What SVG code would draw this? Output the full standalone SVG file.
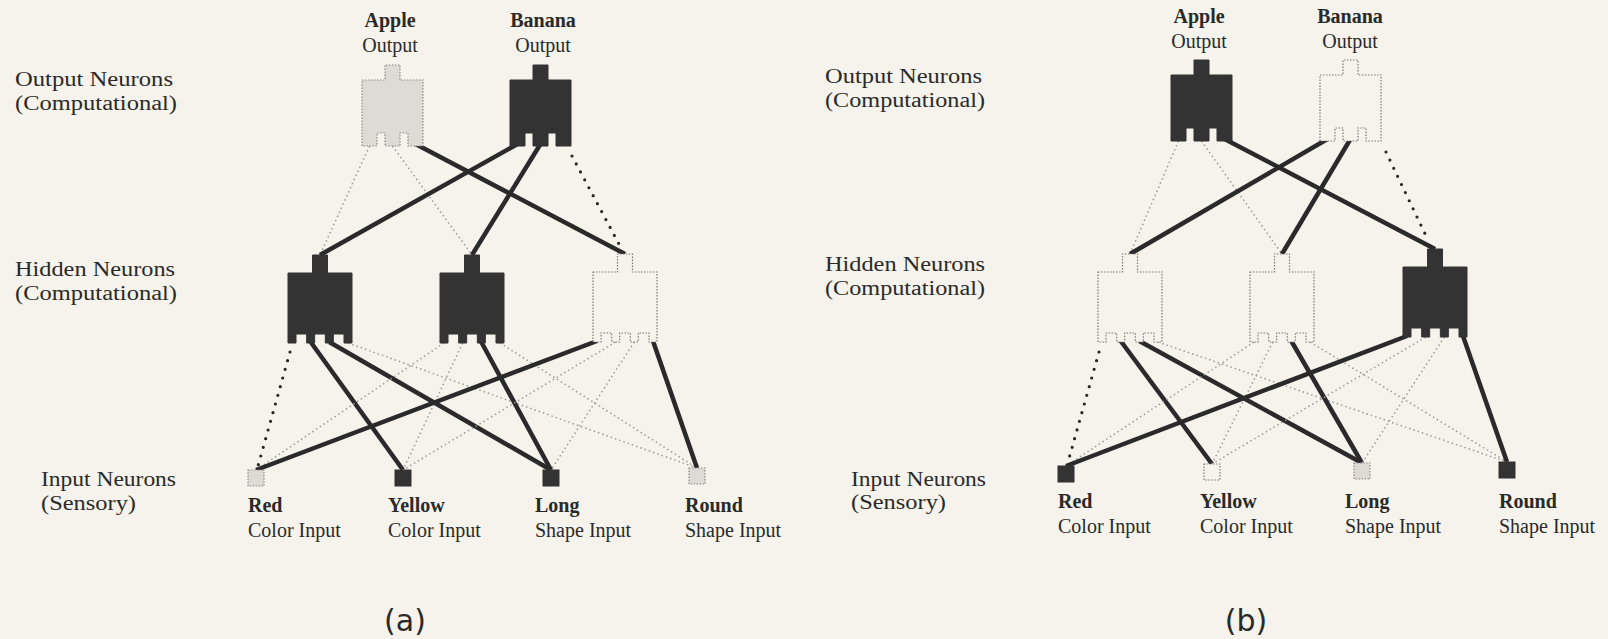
<svg xmlns="http://www.w3.org/2000/svg" xmlns:xlink="http://www.w3.org/1999/xlink" width="1608" height="639" viewBox="0 0 1608 639">
<style>
.bg{fill:#f5f3eb}
.t{font-family:"Liberation Serif","Times New Roman",serif;font-size:20px;fill:#2a2a2a}
.b{font-weight:bold}
.cap{font-family:"DejaVu Sans","Liberation Sans",sans-serif;font-size:30px;fill:#2a2a2a}
.dark{fill:#333;stroke:#333;stroke-width:1}
.lite{fill:#dcdbd6;stroke:#8a8a8a;stroke-width:1.2;stroke-dasharray:1.5 1.5}
.wht{fill:#f5f3eb;stroke:#7a7a7a;stroke-width:1.2;stroke-dasharray:1.5 1.5}
.thick{stroke:#2a2a2a;stroke-width:4.5;fill:none;stroke-linecap:butt}
.ldot{stroke:#9a9a9a;stroke-width:1.5;fill:none;stroke-dasharray:1.5 3}
.ddot{stroke:#262626;stroke-width:3.2;fill:none;stroke-dasharray:0 9;stroke-linecap:round}
</style>
<defs>
<path id="outN" d="M0,0 H23 V-15 H38 V0 H61 V66 H46 V53 H38 V66 H23 V53 H15 V66 H0 Z"/>
<path id="hidN" d="M0,0 H24.5 V-18 H39.5 V0 H64 V70 H56 V61 H45.33 V70 H37.33 V61 H26.67 V70 H18.67 V61 H8 V70 H0 Z"/>
</defs>
<rect class="bg" x="0" y="0" width="1608" height="639"/>

<g id="connectors">
<!-- left: output to hidden -->
<line class="ldot" x1="369.5" y1="146" x2="320" y2="255"/>
<line class="ldot" x1="392.5" y1="146" x2="472" y2="255"/>
<line class="thick" x1="415.5" y1="144" x2="625" y2="254"/>
<line class="thick" x1="517.5" y1="144" x2="320" y2="255"/>
<line class="thick" x1="540.5" y1="144" x2="472" y2="255"/>
<line class="ddot" x1="572" y1="156" x2="620" y2="246"/>
<!-- left: hidden to input -->
<line class="ddot" x1="290" y1="352" x2="258" y2="466"/>
<line class="thick" x1="310.7" y1="342" x2="403" y2="470"/>
<line class="thick" x1="329.3" y1="342" x2="551" y2="470"/>
<line class="ldot" x1="348" y1="343" x2="697" y2="468"/>
<line class="ldot" x1="444" y1="343" x2="256" y2="470"/>
<line class="ldot" x1="462.7" y1="343" x2="403" y2="470"/>
<line class="thick" x1="481.3" y1="342" x2="551" y2="470"/>
<line class="ldot" x1="500" y1="343" x2="697" y2="468"/>
<line class="thick" x1="597" y1="341" x2="256" y2="470"/>
<line class="ldot" x1="615.7" y1="342" x2="403" y2="470"/>
<line class="ldot" x1="634.3" y1="342" x2="551" y2="470"/>
<line class="thick" x1="653" y1="341" x2="697" y2="468"/>
<!-- right: output to hidden -->
<line class="ldot" x1="1178.5" y1="141" x2="1130" y2="254"/>
<line class="ldot" x1="1201.5" y1="141" x2="1282" y2="254"/>
<line class="thick" x1="1224.5" y1="139" x2="1435" y2="249"/>
<line class="thick" x1="1327.5" y1="139" x2="1130" y2="254"/>
<line class="thick" x1="1350.5" y1="139" x2="1282" y2="254"/>
<line class="ddot" x1="1386" y1="152" x2="1428" y2="240"/>
<!-- right: hidden to input -->
<line class="ddot" x1="1099" y1="352" x2="1068" y2="462"/>
<line class="thick" x1="1120.7" y1="341" x2="1212" y2="464"/>
<line class="thick" x1="1139.3" y1="341" x2="1362" y2="463"/>
<line class="ldot" x1="1158" y1="342" x2="1507" y2="462"/>
<line class="ldot" x1="1254" y1="342" x2="1066" y2="466"/>
<line class="ldot" x1="1272.7" y1="342" x2="1212" y2="464"/>
<line class="thick" x1="1291.3" y1="341" x2="1362" y2="463"/>
<line class="ldot" x1="1310" y1="342" x2="1507" y2="462"/>
<line class="thick" x1="1407" y1="336" x2="1066" y2="466"/>
<line class="ldot" x1="1425.7" y1="337" x2="1212" y2="464"/>
<line class="ldot" x1="1444.3" y1="337" x2="1362" y2="463"/>
<line class="thick" x1="1463" y1="336" x2="1507" y2="462"/>
</g>

<g id="row-labels-a">
<text class="t" x="15" y="86" textLength="158" lengthAdjust="spacingAndGlyphs">Output Neurons</text>
<text class="t" x="15" y="110" textLength="162" lengthAdjust="spacingAndGlyphs">(Computational)</text>
<text class="t" x="15" y="276" textLength="160" lengthAdjust="spacingAndGlyphs">Hidden Neurons</text>
<text class="t" x="15" y="300" textLength="162" lengthAdjust="spacingAndGlyphs">(Computational)</text>
<text class="t" x="41" y="486" textLength="135" lengthAdjust="spacingAndGlyphs">Input Neurons</text>
<text class="t" x="41" y="510" textLength="95" lengthAdjust="spacingAndGlyphs">(Sensory)</text>
</g>
<g id="row-labels-b">
<text class="t" x="825" y="83" textLength="157" lengthAdjust="spacingAndGlyphs">Output Neurons</text>
<text class="t" x="825" y="107" textLength="160" lengthAdjust="spacingAndGlyphs">(Computational)</text>
<text class="t" x="825" y="271" textLength="160" lengthAdjust="spacingAndGlyphs">Hidden Neurons</text>
<text class="t" x="825" y="295" textLength="160" lengthAdjust="spacingAndGlyphs">(Computational)</text>
<text class="t" x="851" y="486" textLength="135" lengthAdjust="spacingAndGlyphs">Input Neurons</text>
<text class="t" x="851" y="509" textLength="95" lengthAdjust="spacingAndGlyphs">(Sensory)</text>
</g>

<!-- diagram (a) nodes -->
<g id="a-apple"><use href="#outN" x="362" y="80" class="lite"/><text class="t b" x="390" y="27" text-anchor="middle">Apple</text><text class="t" x="390" y="52" text-anchor="middle">Output</text></g>
<g id="a-banana"><use href="#outN" x="510" y="80" class="dark"/><text class="t b" x="543" y="27" text-anchor="middle">Banana</text><text class="t" x="543" y="52" text-anchor="middle">Output</text></g>
<g id="a-h1"><use href="#hidN" x="288" y="273" class="dark"/></g>
<g id="a-h2"><use href="#hidN" x="440" y="273" class="dark"/></g>
<g id="a-h3"><use href="#hidN" x="593" y="272" class="wht"/></g>
<g id="a-red"><rect x="248" y="470" width="16" height="16" class="lite"/><text class="t b" x="248" y="512">Red</text><text class="t" x="248" y="537">Color Input</text></g>
<g id="a-yellow"><rect x="395" y="470" width="16" height="16" class="dark"/><text class="t b" x="388" y="512">Yellow</text><text class="t" x="388" y="537">Color Input</text></g>
<g id="a-long"><rect x="543" y="470" width="16" height="16" class="dark"/><text class="t b" x="535" y="512">Long</text><text class="t" x="535" y="537">Shape Input</text></g>
<g id="a-round"><rect x="689" y="468" width="16" height="16" class="lite"/><text class="t b" x="685" y="512">Round</text><text class="t" x="685" y="537">Shape Input</text></g>
<text class="cap" x="405" y="631" text-anchor="middle">(a)</text>

<!-- diagram (b) nodes -->
<g id="b-apple"><use href="#outN" x="1171" y="75" class="dark"/><text class="t b" x="1199" y="23" text-anchor="middle">Apple</text><text class="t" x="1199" y="48" text-anchor="middle">Output</text></g>
<g id="b-banana"><use href="#outN" x="1320" y="75" class="wht"/><text class="t b" x="1350" y="23" text-anchor="middle">Banana</text><text class="t" x="1350" y="48" text-anchor="middle">Output</text></g>
<g id="b-h1"><use href="#hidN" x="1098" y="272" class="wht"/></g>
<g id="b-h2"><use href="#hidN" x="1250" y="272" class="wht"/></g>
<g id="b-h3"><use href="#hidN" x="1403" y="267" class="dark"/></g>
<g id="b-red"><rect x="1058" y="466" width="16" height="16" class="dark"/><text class="t b" x="1058" y="508">Red</text><text class="t" x="1058" y="533">Color Input</text></g>
<g id="b-yellow"><rect x="1204" y="464" width="16" height="16" class="wht"/><text class="t b" x="1200" y="508">Yellow</text><text class="t" x="1200" y="533">Color Input</text></g>
<g id="b-long"><rect x="1354" y="463" width="16" height="16" class="lite"/><text class="t b" x="1345" y="508">Long</text><text class="t" x="1345" y="533">Shape Input</text></g>
<g id="b-round"><rect x="1499" y="462" width="16" height="16" class="dark"/><text class="t b" x="1499" y="508">Round</text><text class="t" x="1499" y="533">Shape Input</text></g>
<text class="cap" x="1246" y="631" text-anchor="middle">(b)</text>
</svg>
